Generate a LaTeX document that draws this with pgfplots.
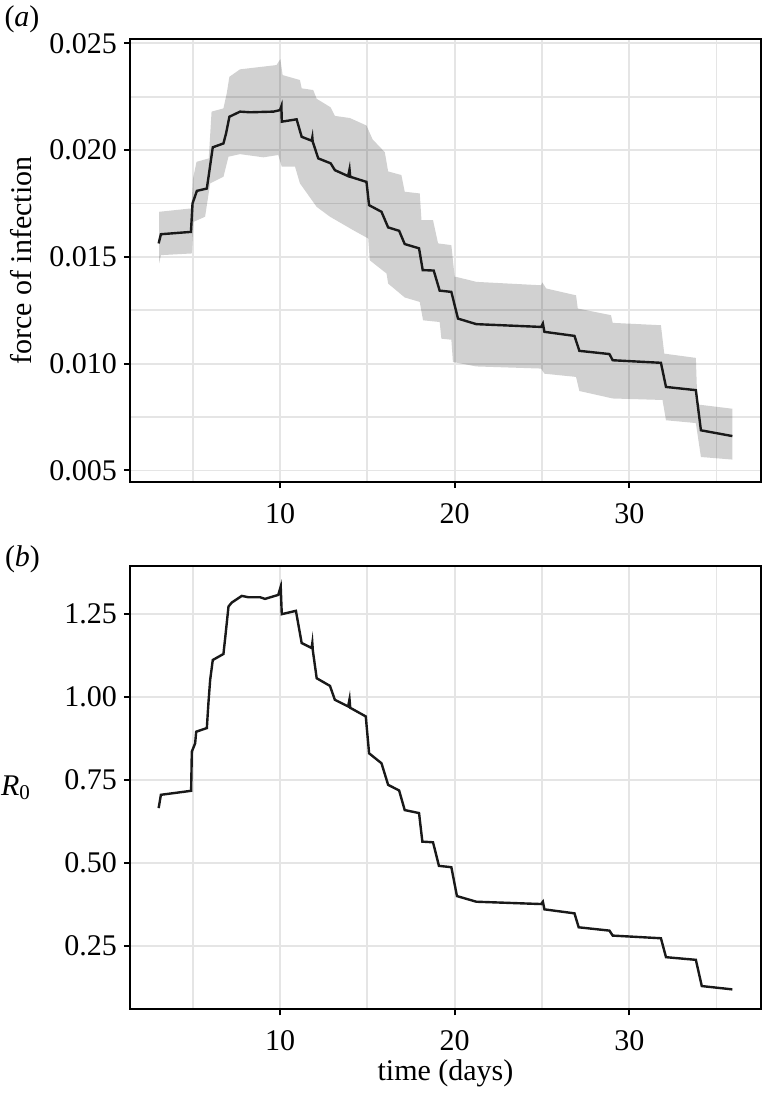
\documentclass[border=0pt]{standalone}
\usepackage{fontspec}
\setmainfont{Liberation Serif}
\usepackage{pgfplots}
\pgfplotsset{compat=1.18}

\pgfplotsset{
  panel/.style={
    scale only axis,
    width=315.5pt,
    xmin=1.41, xmax=37.54,
    xtick={10,20,30},
    minor xtick={5,15,25,35},
    grid=both,
    major grid style={draw=black!10, line width=0.85pt},
    minor grid style={draw=black!10, line width=0.85pt},
    axis line style={line width=1pt, black},
    tick align=outside,
    tick pos=left,
    major tick length=3pt,
    minor tick length=0pt,
    every tick/.style={black, line width=1pt},
    font=\fontsize{15}{18}\selectfont,
    /pgf/number format/assume math mode=true,
    scaled y ticks=false,
    xticklabel style={yshift=-4pt},
  },
}

\begin{document}
\begin{tikzpicture}
\path[use as bounding box] (0,0) rectangle (381.5pt,-546.5pt);

\node at (11pt,-9.5pt) {\fontsize{15}{18}\selectfont(\textit{a})};
\node at (11.25pt,-279.5pt) {\fontsize{15}{18}\selectfont(\textit{b})};

% (a) force of infection with interval
\begin{axis}[panel,
  at={(65pt,-19.5pt)}, anchor=north west,
  height=221.6pt,
  ymin=0.00445, ymax=0.0252,
  ytick={0.005,0.010,0.015,0.020,0.025},
  yticklabels={0.005,0.010,0.015,0.020,0.025},
  minor ytick={0.0075,0.0125,0.0175,0.0225},
  ylabel={force of infection},
  ylabel style={at={(axis description cs:-0.1727,0.5)}, anchor=center},
]
\addplot[draw=none, fill=black, fill opacity=0.18] coordinates {
  (3.08,0.01711) (4.92,0.01727) (5.02,0.01867) (5.22,0.01945) (5.92,0.01961)
  (6.08,0.02180) (6.76,0.02195) (6.95,0.02266) (7.10,0.02343) (7.71,0.02378)
  (9.80,0.02398) (10.02,0.02426) (10.15,0.02351) (11.14,0.02328) (11.24,0.02289)
  (11.90,0.02281) (12.10,0.02240) (12.90,0.02200) (13.14,0.02160) (14.00,0.02150)
  (14.95,0.02115) (15.30,0.02050) (16.00,0.01990) (16.19,0.01900) (16.95,0.01883)
  (17.14,0.01805) (18.00,0.01797) (18.10,0.01672) (18.76,0.01672) (19.05,0.01563)
  (19.81,0.01555) (20.00,0.01406) (20.10,0.01406) (21.24,0.01383) (24.95,0.01367)
  (25.02,0.01380) (25.24,0.01352) (26.95,0.01320) (27.05,0.01258) (28.95,0.01227)
  (29.05,0.01191) (31.81,0.01180) (32.00,0.01047) (33.81,0.01027) (33.90,0.00809)
  (35.90,0.00789)
  (35.90,0.00551) (34.10,0.00563) (33.81,0.00722) (32.10,0.00735) (31.90,0.00830)
  (29.05,0.00837) (27.14,0.00872) (26.95,0.00938) (25.14,0.00953) (24.95,0.00977)
  (21.24,0.00987) (19.90,0.01008) (19.81,0.01112) (19.24,0.01117) (19.14,0.01195)
  (18.19,0.01203) (18.00,0.01289) (17.14,0.01310) (16.19,0.01375) (16.10,0.01422)
  (15.14,0.01484) (15.05,0.01586) (14.19,0.01625) (12.86,0.01688) (12.10,0.01734)
  (11.14,0.01844) (10.86,0.01922) (10.10,0.01922) (9.90,0.01977) (9.05,0.01966)
  (7.71,0.01981) (7.05,0.01969) (6.76,0.01875) (6.00,0.01844) (5.71,0.01688)
  (5.05,0.01664) (4.95,0.01516) (3.18,0.01508) (3.08,0.01470)
} -- cycle;
\addplot[black!90, line width=1.2pt] coordinates {
  (3.05,0.01563) (3.18,0.01606) (4.90,0.01617) (4.99,0.01750) (5.24,0.01809)
  (5.81,0.01820) (6.15,0.02013) (6.76,0.02031) (6.91,0.02078) (7.10,0.02156)
  (7.71,0.02180) (8.29,0.02177) (9.62,0.02180) (10.00,0.02187) (10.08,0.02206)
  (10.10,0.02133) (10.95,0.02144) (11.24,0.02062) (11.81,0.02044) (11.85,0.02060)
  (11.87,0.02040) (12.19,0.01961) (12.90,0.01938) (13.14,0.01906) (13.90,0.01878)
  (13.98,0.01910) (14.02,0.01875) (14.95,0.01851) (15.10,0.01742) (15.81,0.01711)
  (16.19,0.01638) (16.82,0.01622) (17.14,0.01560) (17.96,0.01540) (18.17,0.01438)
  (18.80,0.01436) (19.14,0.01342) (19.81,0.01336) (20.19,0.01211) (21.24,0.01185)
  (24.95,0.01172) (25.05,0.01188) (25.14,0.01149) (26.86,0.01130) (27.14,0.01060)
  (28.86,0.01045) (29.05,0.01016) (31.81,0.01004) (32.10,0.00891) (33.81,0.00876)
  (34.10,0.00688) (35.90,0.00661)
};
\end{axis}

% (b) R0
\begin{axis}[panel,
  at={(65pt,-283pt)}, anchor=north west,
  height=221.65pt,
  ymin=0.06, ymax=1.395,
  ytick={0.25,0.5,0.75,1,1.25},
  yticklabels={0.25,0.50,0.75,1.00,1.25},
  ylabel={\textit{R}\textsubscript{0}},
  ylabel style={at={(axis description cs:-0.1807,0.5)}, anchor=center, rotate=-90},
  xlabel={time (days)},
  xlabel style={at={(axis description cs:0.5,-0.1437)}, anchor=center},
]
\addplot[black!90, line width=1.2pt] coordinates {
  (3.05,0.666) (3.18,0.706) (4.91,0.718) (4.95,0.836) (5.14,0.861)
  (5.20,0.896) (5.81,0.907) (5.90,0.982) (6.00,1.052) (6.15,1.112)
  (6.76,1.130) (6.86,1.178) (7.05,1.273) (7.24,1.285) (7.81,1.305)
  (8.19,1.301) (8.86,1.301) (9.14,1.296) (9.90,1.308) (10.04,1.333)
  (10.10,1.250) (10.91,1.260) (11.24,1.163) (11.81,1.148) (11.85,1.163)
  (11.88,1.140) (12.10,1.057) (12.86,1.034) (13.14,0.992) (13.90,0.972)
  (13.98,0.994) (14.02,0.968) (14.91,0.942) (15.10,0.831) (15.81,0.801)
  (16.19,0.736) (16.82,0.719) (17.14,0.660) (17.96,0.651) (18.15,0.565)
  (18.76,0.563) (19.10,0.492) (19.81,0.488) (20.13,0.401) (21.24,0.384)
  (24.95,0.377) (25.05,0.384) (25.14,0.361) (26.86,0.349) (27.10,0.307)
  (28.86,0.297) (29.05,0.282) (31.81,0.274) (32.10,0.217) (33.81,0.209)
  (34.15,0.130) (35.90,0.120)
};
\end{axis}
\end{tikzpicture}
\end{document}
